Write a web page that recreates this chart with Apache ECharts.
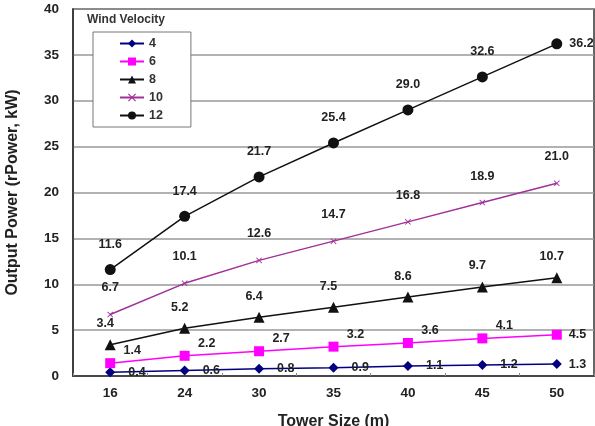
<!DOCTYPE html>
<html lang="en">
<head>
  <meta charset="UTF-8">
  <title>chart</title>
  <style>body{margin:0;background:#fff}</style>
</head>
<body>
<div id="main" style="width: 595px;height:426px;"></div>
<script src="https://cdn.jsdelivr.net/npm/echarts@6/dist/echarts.min.js"></script>
<script>
var towerSize = ['16', '24', '30', '35', '40', '45', '50'];
var v4 = [0.4, 0.6, 0.8, 0.9, 1.1, 1.2, 1.3];
var v6 = [1.4, 2.2, 2.7, 3.2, 3.6, 4.1, 4.5];
var v8 = [3.4, 5.2, 6.4, 7.5, 8.6, 9.7, 10.7];
var v10 = [6.7, 10.1, 12.6, 14.7, 16.8, 18.9, 21.0];
var v12 = [11.6, 17.4, 21.7, 25.4, 29.0, 32.6, 36.2];

var myChart = echarts.init(document.getElementById('main'));
var font = 'Liberation Sans, Arial, sans-serif';
var xMark = 'path://M0,1L1,0L5,4L9,0L10,1L6,5L10,9L9,10L5,6L1,10L0,9L4,5Z';

function lbl(pos, offset) {
  return {
    show: true,
    position: pos,
    offset: offset,
    color: '#222',
    fontFamily: font,
    fontWeight: 'bold',
    fontSize: 12.5,
    formatter: function (p) { return p.value.toFixed(1); }
  };
}
// last point label goes to the right for some series
function pts(arr, lastRight) {
  return arr.map(function (v, i) {
    if (lastRight && i === arr.length - 1) {
      return { value: v, label: { position: 'right', offset: [2, 0] } };
    }
    return v;
  });
}

myChart.setOption({
  animation: false,
  grid: {
    left: 73, right: 1, top: 9, bottom: 50, outerBoundsMode: 'none',
    show: true, borderColor: '#333', borderWidth: 1.5
  },
  title: {
    text: 'Wind Velocity', left: 82, top: 9,
    textStyle: { fontFamily: font, fontWeight: 'bold', fontSize: 12, color: '#333' }
  },
  legend: {
    orient: 'vertical', left: 93, top: 32,
    padding: [5, 28, 5, 26],
    itemGap: 5, itemWidth: 24, itemHeight: 10,
    backgroundColor: '#fff', borderColor: '#777', borderWidth: 1,
    textStyle: { fontFamily: font, fontWeight: 'bold', fontSize: 12.5, color: '#333' },
    data: ['4', '6', '8', '10', '12']
  },
  xAxis: {
    type: 'category', data: towerSize, boundaryGap: true,
    name: 'Tower Size (m)', nameLocation: 'middle', nameGap: 38,
    nameTextStyle: { fontFamily: font, fontWeight: 'bold', fontSize: 16, color: '#222' },
    axisLine: { lineStyle: { color: '#333', width: 1.5 } },
    axisTick: { show: true, inside: true, length: 3, lineStyle: { color: '#888' } },
    axisLabel: { fontFamily: font, fontWeight: 'bold', fontSize: 13.5, color: '#222', margin: 10 }
  },
  yAxis: {
    type: 'value', min: 0, max: 40, interval: 5,
    name: 'Output Power (rPower, kW)', nameLocation: 'middle', nameGap: 52,
    nameTextStyle: { fontFamily: font, fontWeight: 'bold', fontSize: 16, color: '#222' },
    axisLine: { show: true, lineStyle: { color: '#333', width: 1.5 } },
    axisTick: { show: false },
    axisLabel: { fontFamily: font, fontWeight: 'bold', fontSize: 13.5, color: '#222', margin: 14 },
    splitLine: { lineStyle: { color: '#999', width: 1.5 } }
  },
  series: [
    {
      name: '4', type: 'line', data: pts(v4, true), color: '#000080',
      symbol: 'diamond', symbolSize: 10, lineStyle: { width: 1.5 },
      label: lbl('right', [8, 0])
    },
    {
      name: '6', type: 'line', data: pts(v6, true), color: '#ff00ff',
      symbol: 'rect', symbolSize: 10, lineStyle: { width: 1.5 },
      label: lbl('top', [22, 4])
    },
    {
      name: '8', type: 'line', data: v8, color: '#111',
      symbol: 'triangle', symbolSize: 11, lineStyle: { width: 1.5 },
      label: lbl('top', [-5, -4])
    },
    {
      name: '10', type: 'line', data: v10, color: '#a0309a',
      symbol: xMark, symbolSize: 6, lineStyle: { width: 1.5 },
      label: lbl('top', [0, -12])
    },
    {
      name: '12', type: 'line', data: pts(v12, true), color: '#111',
      symbol: 'circle', symbolSize: 11, lineStyle: { width: 1.5 },
      label: lbl('top', [0, -8])
    }
  ]
});
</script>
</body>
</html>
